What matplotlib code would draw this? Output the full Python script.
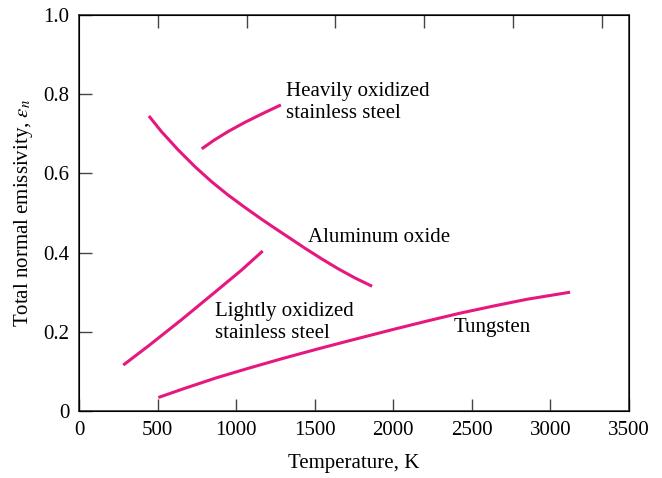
import numpy as np
import matplotlib.pyplot as plt

plt.rcParams['font.family'] = ['Liberation Serif', 'DejaVu Serif']
plt.rcParams['mathtext.fontset'] = 'stix'

# curves (temperature in K, emissivity)
alox_T = [445, 526, 632, 738, 844, 950, 1056, 1163, 1226, 1332, 1438, 1545, 1650, 1756, 1865]
alox_e = [0.745, 0.705, 0.659, 0.617, 0.579, 0.545, 0.514, 0.484, 0.467, 0.439, 0.411,
          0.384, 0.359, 0.336, 0.315]

heavy_T = [781, 860, 950, 1056, 1173, 1285]
heavy_e = [0.662, 0.684, 0.706, 0.729, 0.752, 0.773]

light_T = [282, 441, 654, 865, 1035, 1169]
light_e = [0.116, 0.164, 0.231, 0.300, 0.356, 0.404]

tung_T = [505, 664, 876, 1088, 1300, 1513, 1725, 2000, 2213, 2425, 2637, 2849, 3125]
tung_e = [0.034, 0.056, 0.084, 0.109, 0.133, 0.156, 0.178, 0.206, 0.227, 0.247, 0.265,
          0.282, 0.300]

xticks = [0, 500, 1000, 1500, 2000, 2500, 3000, 3500]
yticks = [0, 0.2, 0.4, 0.6, 0.8, 1.0]
yticklabels = ['0', '0.2', '0.4', '0.6', '0.8', '1.0']
top_ticks = [503, 1068, 1630, 2195, 2760, 3325]

col = '#E6177F'

fig = plt.figure(figsize=(6.62, 4.78), dpi=100)
ax = fig.add_axes([0.1193, 0.1402, 0.8309, 0.8284])

for T, e in [(alox_T, alox_e), (heavy_T, heavy_e), (light_T, light_e), (tung_T, tung_e)]:
    ax.plot(T, e, color=col, lw=2.2, solid_capstyle='butt', solid_joinstyle='round')

ax.set_xlim(0, 3500)
ax.set_ylim(0, 1.0)
ax.set_xticks(xticks)
ax.set_yticks(yticks)
ax.set_yticklabels(yticklabels)
ax.tick_params(direction='in', length=9, width=1, color='#444444', labelsize=15, pad=7)

for s in ax.spines.values():
    s.set_color('#333333')
    s.set_linewidth(1.2)

ax2 = ax.twiny()
ax2.set_xlim(0, 3500)
ax2.set_xticks(top_ticks)
ax2.set_xticklabels([])
ax2.tick_params(direction='in', length=9, width=1, color='#444444')

ax.set_xlabel('Temperature, K', fontsize=15, labelpad=10)
ax.set_ylabel(r'Total normal emissivity, $\varepsilon_n$', fontsize=15, labelpad=6)

fs = 15
ax.text(1317, 0.779, 'Heavily oxidized\nstainless steel', fontsize=fs, va='center', ha='left', linespacing=1.15)
ax.text(1457, 0.437, 'Aluminum oxide', fontsize=fs, va='center', ha='left')
ax.text(866, 0.2235, 'Lightly oxidized\nstainless steel', fontsize=fs, va='center', ha='left', linespacing=1.15)
ax.text(2384, 0.212, 'Tungsten', fontsize=fs, va='center', ha='left')

fig.savefig('out.png', dpi=100)
